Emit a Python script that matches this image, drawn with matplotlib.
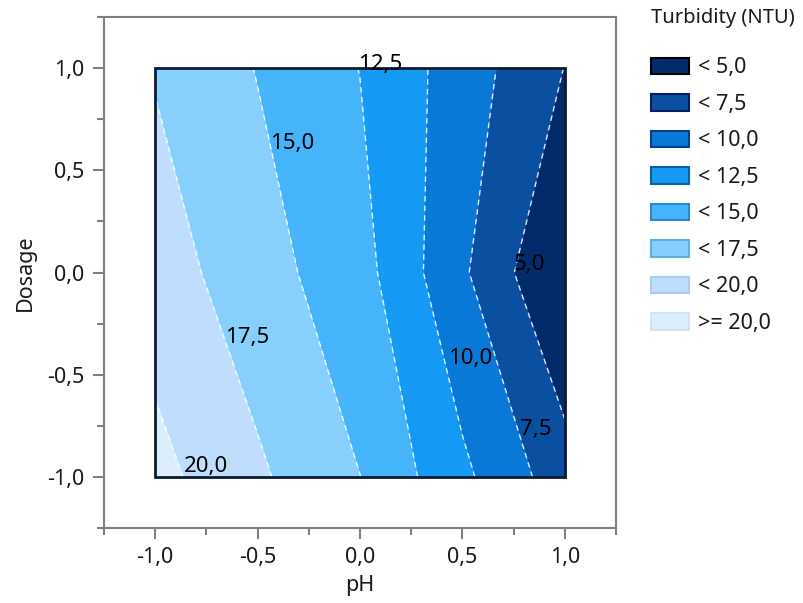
import numpy as np
import matplotlib
matplotlib.use("Agg")
import matplotlib.pyplot as plt
from matplotlib.patches import Patch, Rectangle

# ---- data ----
ph = np.array([-1.0, -0.5, 0.0, 0.5, 1.0])
dosage = np.array([-1.0, 0.0, 1.0])
turb_low = [20.78, 17.9, 15.02, 10.54, 6.1]     # dosage = -1
turb_mid = [18.73, 16.0, 13.45, 7.88, 2.2]      # dosage = 0
turb_high = [17.3, 14.9, 12.45, 8.76, 4.95]     # dosage = 1
levels = [5.0, 7.5, 10.0, 12.5, 15.0, 17.5, 20.0]
legend_labels = ["< 5,0", "< 7,5", "< 10,0", "< 12,5", "< 15,0", "< 17,5", "< 20,0", ">= 20,0"]
label_levels = [12.5, 15.0, 17.5, 20.0, 10.0, 7.5, 5.0]
label_pos = [(-0.01, 1.02), (-0.44, 0.63), (-0.66, -0.32), (-0.86, -0.95), (0.43, -0.42), (0.78, -0.77), (0.75, 0.04)]

band_colors = ["#032a6a", "#0a4fa0", "#0a78d6", "#1499f5", "#45b4fb", "#87cffd", "#bfddfd", "#dceefc"]
edge_colors = ["#000000", "#0a1f60", "#0a3f8a", "#0a5fa5", "#2a8ad0", "#60b0e8", "#a8cdf0", "#d0e4f8"]

plt.rcParams['font.family'] = ['Noto Sans', 'DejaVu Sans']
fs = 15.5
txtc = '#1a1a1a'

fig = plt.figure(figsize=(8.04, 6.03), dpi=100)
ax = fig.add_axes([104/804, 1 - 528/603, 512/804, 511/603])

X, Y = np.meshgrid(ph, dosage)
Z = np.array([turb_low, turb_mid, turb_high])
big = 1e3
cf = ax.contourf(X, Y, Z, levels=[-big] + levels + [big], colors=band_colors)
cs = ax.contour(X, Y, Z, levels=levels, colors='white', linestyles='--', linewidths=1.0, alpha=0.85)
cs.set_dashes([(0, (4, 3))])

ax.add_patch(Rectangle((ph.min(), dosage.min()), ph.max() - ph.min(), dosage.max() - dosage.min(),
                       fill=False, edgecolor='#0b1b33', lw=2, zorder=5))

# contour labels
fmt = lambda v: f"{v:.1f}".replace('.', ',')
for lev, (px, py) in zip(label_levels, label_pos):
    ax.text(px, py, fmt(lev), ha='left', va='center', fontsize=16, color='black', zorder=6)

ax.set_xlim(-1.25, 1.25)
ax.set_ylim(-1.25, 1.25)
ax.set_xticks([-1.0, -0.5, 0.0, 0.5, 1.0])
ax.set_yticks([-1.0, -0.5, 0.0, 0.5, 1.0])
ax.set_xticks(np.arange(-1.25, 1.26, 0.25), minor=True)
ax.set_yticks(np.arange(-1.25, 1.26, 0.25), minor=True)
ax.set_xticklabels([fmt(v) for v in ax.get_xticks()])
ax.set_yticklabels([fmt(v) for v in ax.get_yticks()])
ax.tick_params(which='major', direction='out', length=8, width=1.5, color='#7f7f7f',
               labelsize=fs, labelcolor=txtc, pad=6)
ax.tick_params(which='minor', direction='out', length=5, width=1.5, color='#7f7f7f')
for s in ax.spines.values():
    s.set_color('#7f7f7f')
    s.set_linewidth(1.5)
ax.set_xlabel('pH', fontsize=fs, color=txtc, labelpad=5)
ax.set_ylabel('Dosage', fontsize=fs, color=txtc, labelpad=8)

handles = [Patch(facecolor=c, edgecolor=e, linewidth=1.5) for c, e in zip(band_colors, edge_colors)]
leg = fig.legend(handles, legend_labels, loc='upper left', bbox_to_anchor=(647/804, 1 - 4/603),
                 frameon=False, fontsize=fs, title='Turbidity (NTU)', title_fontsize=14.5,
                 handlelength=1.77, handleheight=0.8, labelspacing=0.72, handletextpad=0.42,
                 borderaxespad=0, borderpad=0.2)
leg._legend_box.align = 'left'
leg._legend_box.sep = 21
for t in leg.get_texts():
    t.set_color(txtc)
leg.get_title().set_color(txtc)

fig.savefig('out.png', dpi=100)
